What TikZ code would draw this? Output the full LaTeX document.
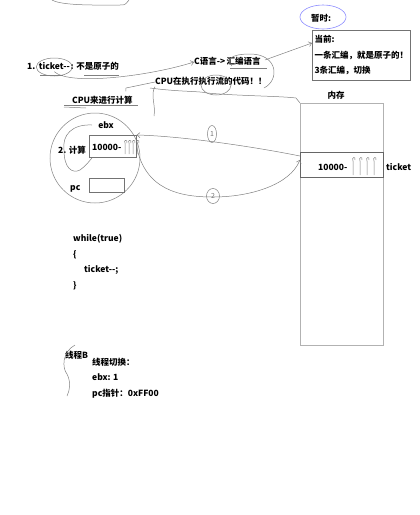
\documentclass[tikz,border=0pt]{standalone}
\usepackage{fontspec}
\setmainfont{Noto Sans CJK SC}
\usetikzlibrary{arrows.meta,shapes.geometric,positioning}
\tikzset{%
  >={Straight Barb[length=3pt,width=5pt]},
  base/.style = {font=\bfseries\fontsize{8.5}{10}\selectfont, inner sep=0pt,
      anchor=west, text height=7pt, text depth=2pt},
  ink/.style = {draw=black!50, line width=0.5pt},
  cellBox/.style = {draw=black!55, line width=0.6pt, anchor=north west, inner sep=0pt},
  digitMark/.style = {ellipse, draw=black!50, line width=0.5pt, inner sep=0.5pt,
      text=black!55, font=\fontsize{7}{7}\selectfont},
}

\begin{document}
\begin{tikzpicture}[x=1pt, y=-1pt]
  \useasboundingbox (0,0) rectangle (420,515);
  % Specification of text nodes
  \node (tempNote)   [base] at (311,19) {暂时:};
  \node (noteBox)    [cellBox, align=left, inner xsep=2pt, minimum width=98pt,
                      minimum height=50pt,
                      font=\bfseries\fontsize{8.5}{15.5}\selectfont] at (312,30)
                     {当前:\\一条汇编，就是原子的！\\3条汇编，切换};
  \node (stepOne)    [base] at (27,67) {1.};
  \node (ticketDec)  [base, right=3pt of stepOne] {ticket-\kern0pt-};
  \node (notAtomic)  [base, right=0.5pt of ticketDec] {: 不是原子的};
  \node (cLang)      [base] at (194,62) {C语言-> };
  \node (asmLang)    [base, right=1pt of cLang] {汇编语言};
  \node (cpuRun)     [base] at (155,82) {CPU在执行执行流的代码！！};
  \node (cpuCalc)    [base] at (72,101) {CPU来进行计算};
  \node (memTitle)   [base, anchor=center] at (336,96) {内存};

  % CPU and its registers
  \node (cpuCircle)  [circle, draw=black!50, line width=0.5pt, minimum size=90pt]
                     at (95,158) {};
  \node (ebxLabel)   [base, anchor=center] at (106,126) {ebx};
  \node (ebxBox)     [cellBox, minimum width=47pt, minimum height=22pt] at (89,135) {};
  \node (ebxValue)   [base] at (92,148) {10000-};
  \node (stepTwo)    [base] at (58,151) {2. 计算};
  \node (pcLabel)    [base] at (70,188) {pc};
  \node (pcBox)      [cellBox, minimum width=35pt, minimum height=14pt] at (89,178) {};

  % Memory
  \node (memBox)     [cellBox, draw=black!30, minimum width=83pt,
                      minimum height=242pt] at (300,103) {};
  \node (ticketCell) [cellBox, draw=black!60, minimum width=83pt,
                      minimum height=25pt] at (300,152) {};
  \node (memValue)   [base] at (318,168) {10000-};
  \node (ticketName) [base] at (386,168) {ticket};

  % Code and thread switch
  \node (whileLine)  [base] at (73,239) {while(true)};
  \node (openBrace)  [base] at (73,255) {\{};
  \node (decLine)    [base] at (84,270) {ticket-\kern0pt-;};
  \node (closeBrace) [base] at (73,286) {\}};
  \node (threadB)    [base] at (65,356) {线程B};
  \node (switchHead) [base] at (92,363) {线程切换：};
  \node (ebxSaved)   [base] at (92,378) {ebx: 1};
  \node (pcSaved)    [base] at (92,394) {pc指针：0xFF00};
  \node (markOne)    [digitMark, minimum width=9pt, minimum height=17pt] at (212,134) {1};
  \node (markTwo)    [digitMark, minimum width=13pt, minimum height=15pt] at (213,196) {2};

  % Hand drawn marks
  \draw[ink] (52,0) .. controls (62,6) and (100,5) .. (120,5) .. controls (125,5) .. (129,0);
  \draw[draw=blue!45, line width=0.6pt] (323,17) ellipse [x radius=23pt, y radius=12pt];
  \draw[ink] (ticketDec) ellipse [x radius=18pt, y radius=9pt];
  \draw[ink] (40,75) -- (63,75);
  \draw[ink] (84,75) -- (119,75);
  \draw[ink] (230,68) -- (267,68);
  \draw[ink] (264,88) .. controls (280,80) and (278,54) .. (250,54)
                      .. controls (230,54) and (226,60) .. (232,66);
  \draw[ink] (216,85) ellipse [x radius=15pt, y radius=10pt];
  \draw[ink] (64,105) -- (138,105);
  \draw[ink] (64,107) -- (86,108);
  \draw[ink] (92,125) .. controls (72,124) and (62,135) .. (64,150)
                      .. controls (64,168) and (72,174) .. (80,170)
                      .. controls (86,166) and (90,160) .. (92,158);
  \foreach \x in {125,129,133,137} {
    \draw[ink] (\x,154) -- (\x,143) .. controls (\x-2,140) and (\x+3,139) .. (\x+2,143);
  }
  \foreach \x in {353,360,367,374} {
    \draw[ink] (\x,175) -- (\x,161) .. controls (\x-2,157) and (\x+3,156) .. (\x+2,160);
  }
  \draw[ink] (75,345) .. controls (62,352) and (62,368) .. (67,374)
                      .. controls (71,382) and (70,390) .. (67,396);

  % Connectors between nodes
  \draw[ink, ->] (ticketDec.south) .. controls (70,86) and (150,76) .. (cLang.west);
  \draw[ink, ->] (asmLang.east) ++(4,-2) -- ([yshift=-13pt]noteBox.north west);
  \draw[ink] (cpuCalc.north east) ++(-7,-5) -- (126,88) -- (cpuRun.west);
  \draw[ink] (cpuRun.south west) .. controls (150,95) and (156,105) .. (154,116);
  \draw[ink] (150,88) .. controls (180,92) and (200,91) .. (207,93)
                      .. controls (240,96) and (280,96) .. (296,98) -- (memBox.north west);
  \draw[ink, ->] ([yshift=-4pt]ticketCell.north west) .. controls (250,146) and (180,136) .. (ebxBox.north east);
  \draw[ink, ->] (ebxBox.east) .. controls (145,190) and (180,197) .. (213,197)
                 .. controls (250,197) and (290,185) .. ([yshift=5pt]ticketCell.west);
\end{tikzpicture}
\end{document}
